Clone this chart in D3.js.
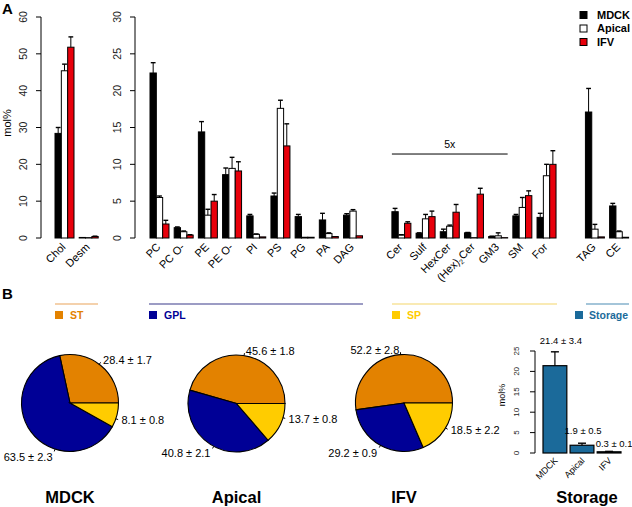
<!DOCTYPE html>
<html><head><meta charset="utf-8">
<script src="https://cdn.jsdelivr.net/npm/d3@7/dist/d3.min.js"></script>
<style>body{margin:0;background:#fff}svg{display:block;font-family:"Liberation Sans",Arial,Helvetica,sans-serif}</style>
</head><body><svg id="c" width="632" height="507"></svg>
<script>
// ---------------- DATA ----------------
const seriesNames = ["MDCK", "Apical", "IFV"];

const sterolCats = ["Chol", "Desm"];
const sterolMDCK = [28.4, 0.15];
const sterolMDCKErr = [1.6, 0];
const sterolApical = [45.4, 0.1];
const sterolApicalErr = [1.8, 0];
const sterolIFV = [51.8, 0.4];
const sterolIFVErr = [2.8, 0.1];

const lipidGroups = [
  ["PC", "PC O-", "PE", "PE O-", "PI", "PS", "PG", "PA", "DAG"],
  ["Cer", "Sulf", "HexCer", "(Hex)2Cer", "GM3", "SM", "For"],
  ["TAG", "CE"]
];
const lipidMDCK     = [22.4, 1.4, 14.4, 8.6, 3.0, 5.7, 2.9, 2.45, 3.1, 3.57, 0.65, 0.85, 0.7, 0.2, 3.0, 2.8, 17.1, 4.35];
const lipidMDCKErr  = [1.4, 0.1, 1.4, 0.9, 0.2, 0.4, 0.3, 0.9, 0.2, 0.45, 0.05, 0.35, 0.05, 0.05, 0.2, 0.55, 3.2, 0.35];
const lipidApical   = [5.5, 0.85, 3.1, 9.45, 0.5, 17.6, 0.1, 0.6, 3.65, 0.4, 2.6, 1.6, 0.05, 0.3, 4.15, 8.45, 1.2, 0.85];
const lipidApicalErr= [0.2, 0.1, 0.8, 1.5, 0.05, 1.1, 0, 0.1, 0.2, 0.05, 0.6, 0.15, 0, 0.4, 1.35, 1.55, 0.65, 0.1];
const lipidIFV      = [1.9, 0.4, 5.0, 9.1, 0.15, 12.5, 0.1, 0.2, 0.3, 2.0, 2.9, 3.5, 5.95, 0.05, 5.75, 10.0, 0.15, 0.1];
const lipidIFVErr   = [0.5, 0.05, 0.9, 1.25, 0, 3.0, 0, 0, 0, 0.2, 0.75, 1.05, 0.8, 0, 0.65, 1.85, 0, 0];
const magnifiedCats = ["Cer", "Sulf", "HexCer", "(Hex)2Cer", "GM3"];
const magnifiedLabel = "5x";

const leftTicks = [0, 10, 20, 30, 40, 50, 60];
const midTicks = [0, 5, 10, 15, 20, 25, 30];

const classNames = ["ST", "GPL", "SP"];
const classST  = [28.4, 45.6, 52.2];
const classSTErr  = [1.7, 1.8, 2.8];
const classGPL = [63.5, 40.8, 29.2];
const classGPLErr = [2.3, 2.1, 0.9];
const classSP  = [8.1, 13.7, 18.5];
const classSPErr  = [0.8, 0.8, 2.2];

const storageName = "Storage";
const storageVals = [21.4, 1.9, 0.3];
const storageErr = [3.4, 0.5, 0.1];
const storageTicks = [0, 5, 10, 15, 20, 25];

// ---------------- STYLE / LAYOUT ----------------
const seriesFill = ["#000000", "#ffffff", "#e8000b"];
const classColor = ["#e38200", "#000096", "#ffcc00"];
const storageColor = "#1b6a9a";
const headerLine = ["#e9a35a", "#3a3a8a", "#f3d66a", "#4a8cb4"];
const FONT = 10.5;
const TITLE = 16.5;

const svg = d3.select("#c");

// panel letters
svg.append("text").attr("x", 2).attr("y", 14).attr("font-size", 15).attr("font-weight", "bold").text("A");
svg.append("text").attr("x", 2).attr("y", 299).attr("font-size", 15).attr("font-weight", "bold").text("B");

function yAxis(g, scale, x, ticks, labelX, fs) {
  g.append("line").attr("x1", x).attr("x2", x).attr("y1", scale(ticks[0])).attr("y2", scale(ticks[ticks.length - 1]))
    .attr("stroke", "#000");
  ticks.forEach(t => {
    g.append("line").attr("x1", x - 5).attr("x2", x).attr("y1", scale(t)).attr("y2", scale(t)).attr("stroke", "#000");
    g.append("text").attr("transform", `translate(${labelX},${scale(t)}) rotate(-90)`)
      .attr("text-anchor", "middle").attr("font-size", fs).attr("fill", "#222").text(t);
  });
}

function drawBars(g, cats, xBand, y, vals, errs, catLabelY) {
  const sub = d3.scaleBand().domain(seriesNames).range([0, xBand.bandwidth()]).padding(0);
  cats.forEach((c, i) => {
    const x0 = xBand(c);
    seriesNames.forEach((s, k) => {
      const v = vals[k][i], e = errs[k][i];
      const bx = x0 + sub(s), bw = sub.bandwidth();
      g.append("rect").attr("x", bx).attr("y", y(v)).attr("width", bw).attr("height", y(0) - y(v))
        .attr("fill", seriesFill[k]).attr("stroke", "#000").attr("stroke-width", 1);
      if (e > 0) {
        const cx = bx + bw / 2;
        g.append("line").attr("x1", cx).attr("x2", cx).attr("y1", y(v)).attr("y2", y(v + e)).attr("stroke", "#000");
        g.append("line").attr("x1", cx - 2.4).attr("x2", cx + 2.4).attr("y1", y(v + e)).attr("y2", y(v + e)).attr("stroke", "#000").attr("stroke-width", 1.4);
      }
    });
    const t = g.append("text").attr("transform", `translate(${x0 + xBand.bandwidth() / 2 - 1},${catLabelY}) rotate(-45)`)
      .attr("text-anchor", "end").attr("dy", "0.35em").attr("font-size", 11);
    const m = c.match(/^\(Hex\)2(.*)$/);
    if (m) {
      t.append("tspan").text("(Hex)");
      t.append("tspan").attr("font-size", 7).attr("dy", "0.35em").text("2");
      t.append("tspan").attr("dy", "-0.25em").text(m[1]);
    } else t.text(c);
  });
}

// ---- Left (sterols) ----
const yL = d3.scaleLinear().domain([0, 60]).range([238, 17]);
const gL = svg.append("g");
yAxis(gL, yL, 41, leftTicks, 27, FONT);
gL.append("text").attr("transform", "translate(11,123) rotate(-90)").attr("text-anchor", "middle").attr("font-size", 11).text("mol%");
const xL = d3.scaleBand().domain(sterolCats).range([55, 98.2]).paddingInner(0.215).paddingOuter(0);
drawBars(gL, sterolCats, xL, yL, [sterolMDCK, sterolApical, sterolIFV], [sterolMDCKErr, sterolApicalErr, sterolIFVErr], 245);

// ---- Middle (lipids) ----
const yM = d3.scaleLinear().domain([0, 30]).range([238, 17]);
const gM = svg.append("g");
yAxis(gM, yM, 135, midTicks, 121, FONT);
const slots = [];
lipidGroups.forEach((grp, gi) => { grp.forEach(c => slots.push(c)); if (gi < lipidGroups.length - 1) slots.push("__gap" + gi); });
const lipidCats = lipidGroups.flat();
const xM = d3.scaleBand().domain(slots).range([150, 628.6]).paddingInner(0.215).paddingOuter(0);
drawBars(gM, lipidCats, xM, yM, [lipidMDCK, lipidApical, lipidIFV], [lipidMDCKErr, lipidApicalErr, lipidIFVErr], 245);
const mx1 = xM(magnifiedCats[0]), mx2 = xM(magnifiedCats[magnifiedCats.length - 1]) + xM.bandwidth();
gM.append("line").attr("x1", mx1).attr("x2", mx2).attr("y1", yM(11.4)).attr("y2", yM(11.4)).attr("stroke", "#000");
gM.append("text").attr("x", (mx1 + mx2) / 2).attr("y", yM(11.4) - 6).attr("text-anchor", "middle").attr("font-size", 10.5).text(magnifiedLabel);

// ---- Legend ----
const gLeg = svg.append("g");
seriesNames.forEach((s, k) => {
  const yy = 15 + k * 13.5;
  gLeg.append("rect").attr("x", 580).attr("y", yy - 3.5).attr("width", 7).attr("height", 7)
    .attr("fill", seriesFill[k]).attr("stroke", "#000");
  gLeg.append("text").attr("x", 597).attr("y", yy).attr("dy", "0.36em").attr("font-size", 11).attr("font-weight", "bold").text(s);
});

// ---- B headers ----
const headers = [
  { name: classNames[0], x1: 55, x2: 98, sq: 55, tx: 70, color: classColor[0], line: headerLine[0] },
  { name: classNames[1], x1: 149, x2: 363, sq: 149, tx: 164, color: classColor[1], line: headerLine[1] },
  { name: classNames[2], x1: 392, x2: 557, sq: 392, tx: 407, color: classColor[2], line: headerLine[2] },
  { name: storageName, x1: 586, x2: 629, sq: 575, tx: 589, color: storageColor, line: headerLine[3] }
];
headers.forEach(h => {
  svg.append("line").attr("x1", h.x1).attr("x2", h.x2).attr("y1", 304).attr("y2", 304).attr("stroke", h.line).attr("stroke-width", 1.2);
  svg.append("rect").attr("x", h.sq).attr("y", 311).attr("width", 8).attr("height", 8).attr("fill", h.color);
  svg.append("text").attr("x", h.tx).attr("y", 315).attr("dy", "0.36em").attr("font-size", 10.5).attr("font-weight", "bold").attr("fill", h.color).text(h.name);
});

// ---- Pies ----
const pieCenters = [[70, 403], [236.5, 403.5], [404, 403]];
const pieR = 48.5;
const labelDeg = [[53, 252, -19], [81, 242, -17], [94, 241, -31]];
const pie = d3.pie().sort(null).value(d => d.v).startAngle(Math.PI / 2).endAngle(Math.PI / 2 - 2 * Math.PI);
const arc = d3.arc().innerRadius(0).outerRadius(pieR);
seriesNames.forEach((s, p) => {
  const data = [
    { v: classST[p], e: classSTErr[p] },
    { v: classGPL[p], e: classGPLErr[p] },
    { v: classSP[p], e: classSPErr[p] }
  ];
  const [cx, cy] = pieCenters[p];
  const g = svg.append("g").attr("transform", `translate(${cx},${cy})`);
  g.selectAll("path").data(pie(data)).enter().append("path").attr("d", arc)
    .attr("fill", (d, i) => classColor[i]).attr("stroke", "#000").attr("stroke-width", 1.1);
  data.forEach((d, i) => {
    const a = labelDeg[p][i] * Math.PI / 180;
    const c = Math.cos(a), sn = -Math.sin(a);
    g.append("line").attr("x1", c * pieR).attr("y1", sn * pieR).attr("x2", c * pieR * 1.05).attr("y2", sn * pieR * 1.05).attr("stroke", "#000");
    g.append("text").attr("x", c * pieR * 1.1 + (c > 0 ? 1 : -1)).attr("y", sn * pieR * 1.1 + (sn > 0.8 ? 3 : 0)).attr("dy", "0.35em")
      .attr("text-anchor", c > 0 ? "start" : "end").attr("font-size", 11).attr("font-weight", 500).text(`${d.v.toFixed(1)} ± ${d.e.toFixed(1)}`);
  });
  svg.append("text").attr("x", cx).attr("y", 497).attr("dy", "0.35em").attr("text-anchor", "middle")
    .attr("font-size", TITLE).attr("font-weight", "bold").text(s);
});

// ---- Storage bars ----
const yS = d3.scaleLinear().domain([0, 25]).range([453, 351]);
const gS = svg.append("g");
yAxis(gS, yS, 535, storageTicks, 519, 8);
gS.append("text").attr("transform", "translate(505,395) rotate(-90)").attr("text-anchor", "middle").attr("font-size", 9).text("mol%");
const xS = d3.scaleBand().domain(seriesNames).range([543, 621]).paddingInner(0.12).paddingOuter(0);
const storageLabelOffset = [[6, -11], [1, -13], [5, -7.5]];
seriesNames.forEach((s, i) => {
  const v = storageVals[i], e = storageErr[i];
  const bx = xS(s), bw = xS.bandwidth(), cxb = bx + bw / 2;
  gS.append("rect").attr("x", bx).attr("y", yS(v)).attr("width", bw).attr("height", yS(0) - yS(v))
    .attr("fill", storageColor).attr("stroke", "#000").attr("stroke-width", 1.2);
  gS.append("line").attr("x1", cxb).attr("x2", cxb).attr("y1", yS(v)).attr("y2", yS(v + e)).attr("stroke", "#000").attr("stroke-width", 1.2);
  gS.append("line").attr("x1", cxb - 4).attr("x2", cxb + 4).attr("y1", yS(v + e)).attr("y2", yS(v + e)).attr("stroke", "#000").attr("stroke-width", 1.4);
  const [ox, oy] = storageLabelOffset[i];
  gS.append("text").attr("x", cxb + ox).attr("y", yS(v + e) + oy).attr("dy", "0.35em").attr("text-anchor", "middle").attr("font-size", 9.5)
    .text(`${v.toFixed(1)} ± ${e.toFixed(1)}`);
  gS.append("text").attr("transform", `translate(${cxb + 1},${459}) rotate(-45)`).attr("text-anchor", "end").attr("dy", "0.35em")
    .attr("font-size", 9).text(s);
});
svg.append("text").attr("x", 587).attr("y", 497).attr("dy", "0.35em").attr("text-anchor", "middle")
  .attr("font-size", TITLE).attr("font-weight", "bold").text(storageName);
</script></body></html>
